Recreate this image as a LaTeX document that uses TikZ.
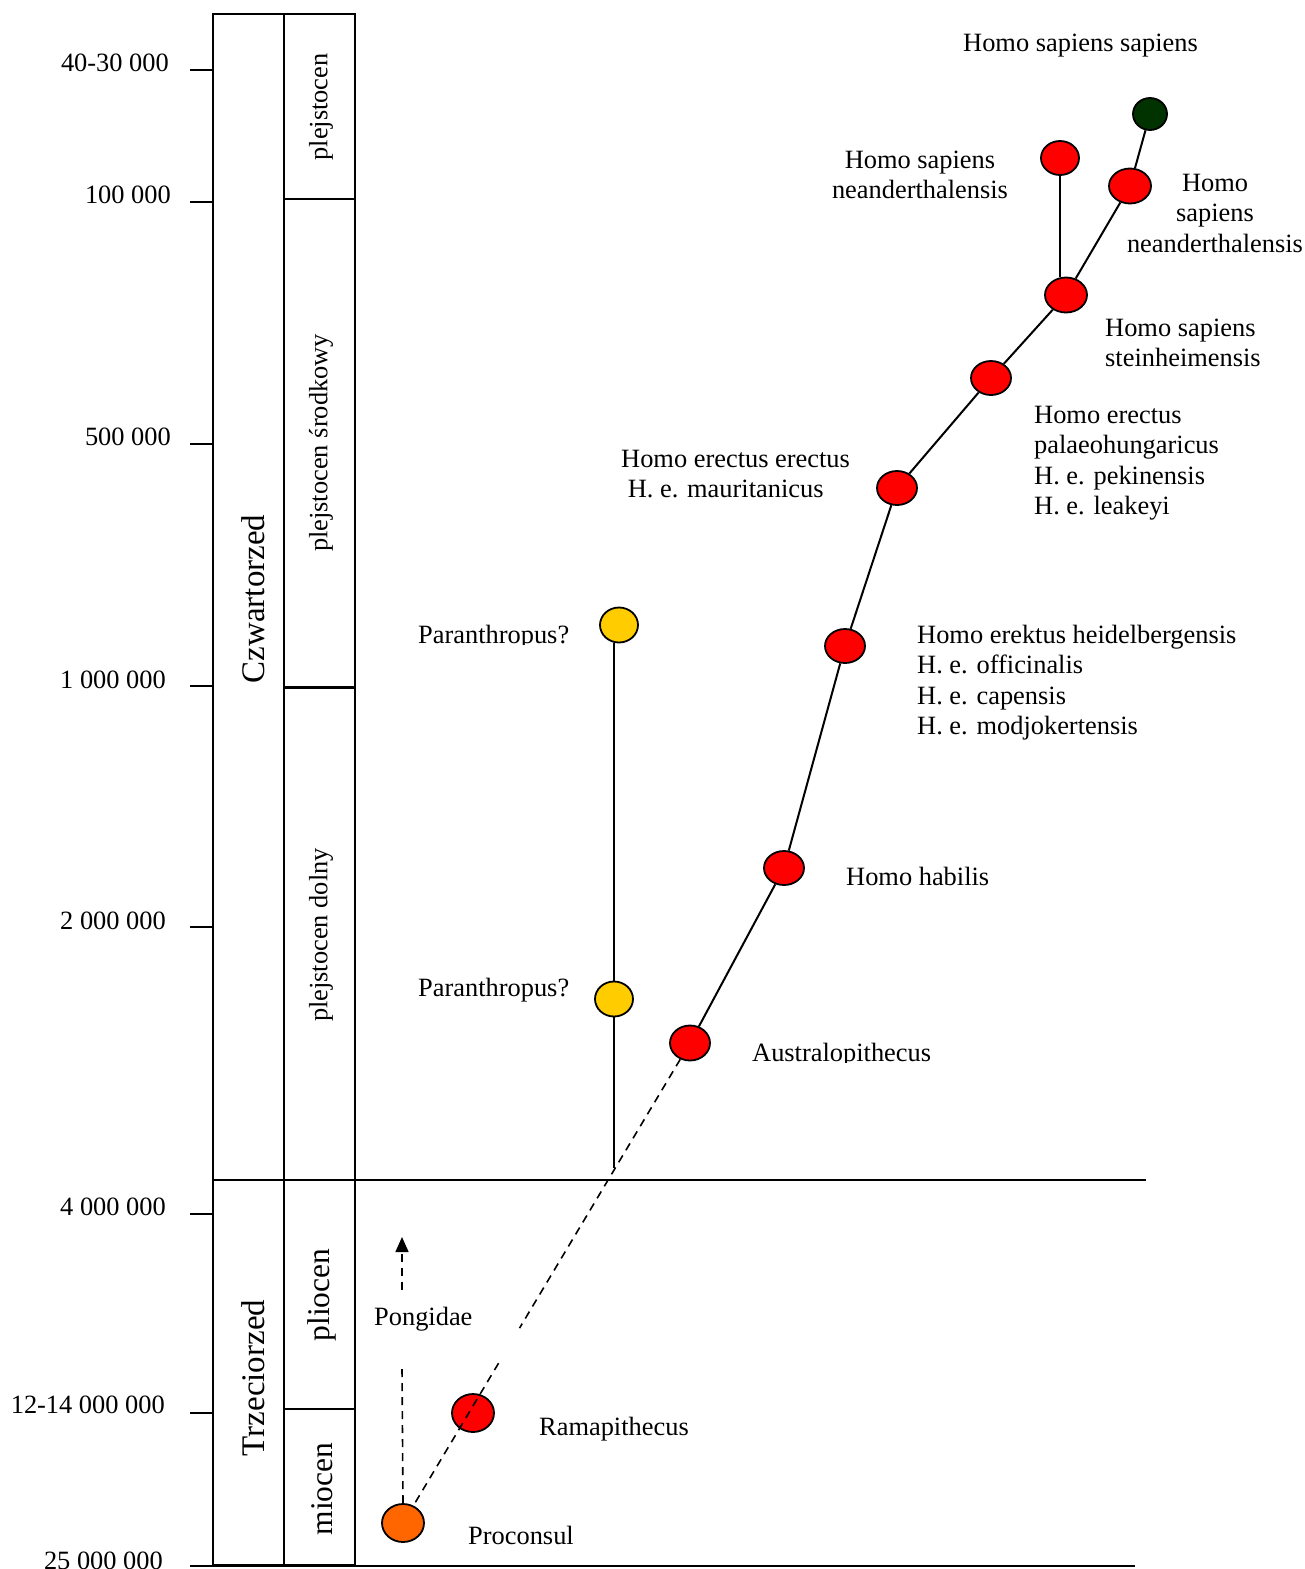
\documentclass[tikz,border=0pt]{standalone}
\usepackage{fontspec}
\setmainfont{Liberation Serif}
\usetikzlibrary{shapes.geometric,arrows.meta,calc}
\definecolor{cred}{HTML}{FF0000}
\definecolor{cyel}{HTML}{FFCC00}
\definecolor{corg}{HTML}{FF6600}
\definecolor{cgrn}{HTML}{003300}
\begin{document}
\begin{tikzpicture}[x=1pt,y=-1pt,
  lbl/.style={inner sep=0pt, font=\fontsize{26.4}{30.6}\selectfont, anchor=base west},
  scl/.style={inner sep=0pt, font=\fontsize{26.4}{30.6}\selectfont, anchor=east},
  vlbl/.style={inner sep=0pt, font=\fontsize{26.4}{30.6}\selectfont, rotate=90},
  vmid/.style={inner sep=0pt, font=\fontsize{31.5}{36}\selectfont, rotate=90},
  vbig/.style={inner sep=0pt, font=\fontsize{33}{38}\selectfont, rotate=90},
  ln/.style={line width=2pt},
  dashln/.style={line width=1.6pt, dash pattern=on 8pt off 6pt},
  dot/.style={ellipse, draw, line width=1.8pt, inner sep=0pt, minimum width=40, minimum height=34},
  reddot/.style={dot, fill=cred},
]
\useasboundingbox (0,0) rectangle (1304,1569);
\fill[white] (0,0) rectangle (1304,1569);

% columns
\draw[ln] (213,14) rectangle (284,1565);
\draw[ln] (284,14) rectangle (355,1565);
\draw[ln] (284,199) -- (355,199);
\draw[line width=3pt] (284,687) -- (355,687);
\draw[ln] (284,1409) -- (355,1409);
\draw[ln] (213,1180) -- (1146,1180);
\draw[ln] (190,1566) -- (1135,1566);

% ticks
\foreach \yy in {70,202,444,686,927,1214,1413}
  \draw[ln] (190,\yy) -- (213,\yy);

% scale labels
\node[scl] (s1) at (169,63) {40-30 000};
\node[scl] (s2) at (171,195) {100 000};
\node[scl] (s3) at (171,437) {500 000};
\node[scl] (s4) at (166,680) {1 000 000};
\node[scl] (s5) at (166,921) {2 000 000};
\node[scl] (s6) at (166,1207) {4 000 000};
\node[scl] (s7) at (165,1405) {12-14 000 000};
\node[scl] (s8) at (163,1561) {25 000 000};

% vertical labels
\node[vbig] (era1) at (253,599) {Czwartorzed};
\node[vbig] (era2) at (253,1378) {Trzeciorzed};
\node[vlbl] (ep1) at (321,107) {plejstocen};
\node[vlbl] (ep2) at (321,443) {plejstocen środkowy};
\node[vlbl] (ep3) at (321,935) {plejstocen dolny};
\node[vmid] (ep4) at (322,1295) {pliocen};
\node[vmid] (ep5) at (322,1489) {miocen};

% dots
\node[dot, fill=cgrn, minimum width=34, minimum height=32] (hss) at (1150,114) {};
\node[reddot, minimum width=38] (nea1) at (1060,158) {};
\node[reddot, minimum width=42, minimum height=35] (nea2) at (1130,186) {};
\node[reddot, minimum width=42, minimum height=35] (stein) at (1066,295) {};
\node[reddot] (pal) at (991,378) {};
\node[reddot] (ere) at (897,488) {};
\node[reddot] (hei) at (845,646) {};
\node[reddot] (hab) at (784,868) {};
\node[reddot, minimum height=35] (aus) at (690,1043) {};
\node[dot, fill=cyel, minimum width=38, minimum height=35] (par1) at (619,625) {};
\node[dot, fill=cyel, minimum width=38, minimum height=35] (par2) at (614,999) {};
\node[reddot, minimum width=42, minimum height=38] (ram) at (473,1413) {};
\node[dot, fill=corg, minimum width=42, minimum height=38] (pro) at (403,1523) {};

% connectors
\draw[ln] (hss) -- (nea2);
\draw[ln] (nea1.south) -- (nea1.south |- stein.north);
\draw[ln] (nea2) -- (stein);
\draw[ln] (stein) -- (pal);
\draw[ln] (pal) -- (ere);
\draw[ln] (ere) -- (hei);
\draw[ln] (hei) -- (hab);
\draw[ln] (hab) -- (aus);
\draw[ln] (par2.north |- par1.south) -- (par2.north);
\coordinate (pb) at (614,1168);
\draw[ln] (par2.south) -- (pb);

\coordinate (g1) at ($(aus)!0.594!(pro)$);
\coordinate (g2) at ($(aus)!0.667!(pro)$);
\draw[dashln] (aus) -- (g1);
\draw[dashln] (g2) -- (pro);

\coordinate (pa1) at (402,1368);
\coordinate (pa2) at (402,1290);
\coordinate (pa3) at (402,1237);
\draw[dashln] (pro.north) -- (pa1);
\draw[dashln, -{Triangle[length=15pt,width=13pt]}] (pa2) -- (pa3);

% labels (multi-line nodes: base = last line)
\node[lbl] (t1) at (963,51) {Homo sapiens sapiens};
\node[lbl, align=center, anchor=base] (t2) at (920,198.6) {Homo sapiens\\neanderthalensis};
\node[lbl, align=center, anchor=base] (t3) at (1215,252.2) {Homo\\sapiens\\neanderthalensis};
\node[lbl, align=left] (t4) at (1105,366.6) {Homo sapiens\\steinheimensis};
\node[lbl, align=left] (t5) at (1034,514.8) {Homo erectus\\palaeohungaricus\\H. e. pekinensis\\H. e. leakeyi};
\node[lbl, align=left] (t6) at (621,497.6) {Homo erectus erectus\\\hspace*{6.6pt}H. e. mauritanicus};
\node[lbl, align=left] (t7) at (917,734.8) {Homo erektus heidelbergensis\\H. e. officinalis\\H. e. capensis\\H. e. modjokertensis};
\node[lbl] (t8) at (846,885) {Homo habilis};
\begin{scope}
  \clip (740,1020) rectangle (1000,1062);
  \node[lbl] (t9) at (752,1061) {Australopithecus};
\end{scope}
\begin{scope}
  \clip (400,605) rectangle (590,644);
  \node[lbl] (t10) at (418,643) {Paranthropus?};
\end{scope}
\node[lbl] (t11) at (418,996) {Paranthropus?};
\node[lbl] (t12) at (539,1435) {Ramapithecus};
\node[lbl] (t13) at (468,1544) {Proconsul};
\node[lbl] (t14) at (374,1325) {Pongidae};
\end{tikzpicture}
\end{document}
